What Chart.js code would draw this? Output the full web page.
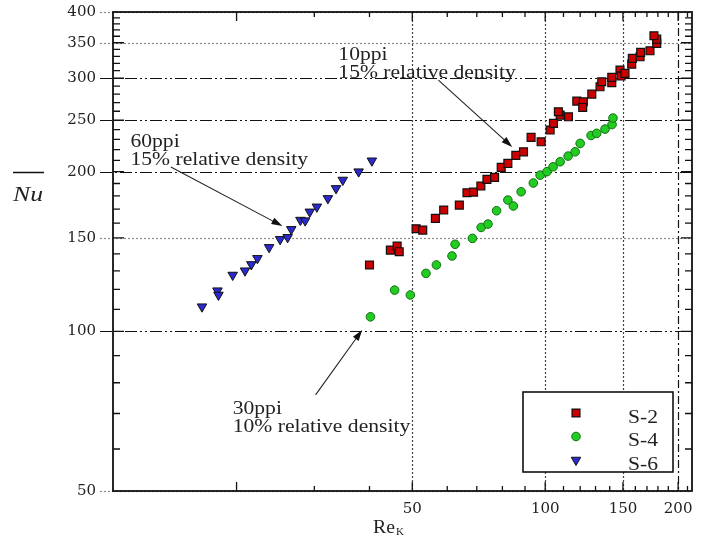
<!DOCTYPE html>
<html>
<head>
<meta charset="utf-8">
<script src="https://cdn.jsdelivr.net/npm/chart.js@4.4.0/dist/chart.umd.min.js"></script>
<style>
  html, body { margin: 0; padding: 0; background: #fff; }
</style>
</head>
<body>
<canvas id="nuChart" width="704" height="540"></canvas>
<script>
// S-2 : 10ppi, 15% relative density
const s2Re = [40.0, 44.6, 46.2, 46.7, 51.0, 52.8, 56.4, 58.9, 63.9, 66.5, 68.8, 71.5, 73.8, 76.8, 79.5, 82.3,
  85.8, 89.3, 92.9, 97.9, 102.6, 104.4, 108.1, 107.1, 112.9, 117.9, 122.0, 121.6, 127.5, 133.1, 134.3,
  141.5, 141.5, 147.7, 148.5, 151.6, 157.0, 157.5, 164.0, 164.5, 172.7, 178.9, 178.9, 176.3];
const s2Nu = [133.4, 142.3, 144.8, 141.3, 156.1, 155.2, 163.3, 169.3, 173.0, 182.5, 183.0, 187.9, 193.4, 195.1, 203.8, 207.3,
  214.7, 218.0, 232.1, 227.7, 239.6, 246.7, 255.7, 259.4, 253.8, 271.7, 270.9, 264.3, 280.1, 289.1, 295.5,
  294.2, 301.2, 310.9, 302.9, 306.4, 319.0, 327.0, 329.3, 335.7, 338.0, 349.0, 355.6, 360.8];

// S-4 : 30ppi, 10% relative density
const s4Re = [40.2, 45.6, 49.5, 53.7, 56.7, 61.5, 62.5, 68.4, 71.6, 74.2, 77.6, 82.3, 84.7, 88.2, 94.0, 97.4,
  100.9, 104.2, 108.1, 112.7, 116.9, 120.0, 127.0, 130.8, 136.6, 141.7, 142.4];
const s4Nu = [106.5, 119.6, 117.1, 128.6, 133.4, 138.7, 145.9, 149.7, 157.0, 159.3, 168.8, 176.8, 172.3, 183.3, 190.4, 197.0,
  200.0, 204.3, 208.8, 214.0, 218.0, 226.1, 234.0, 236.2, 240.6, 245.4, 252.4];

// S-6 : 60ppi, 15% relative density
const s6Re = [16.7, 18.1, 18.2, 19.6, 20.9, 21.6, 22.3, 23.7, 25.1, 26.1, 26.6, 27.9, 28.6, 29.3, 30.4, 32.2, 33.6, 34.8, 37.8, 40.5];
const s6Nu = [111.3, 119.3, 117.1, 127.7, 130.1, 133.7, 137.3, 144.0, 149.1, 150.4, 155.7, 162.1, 161.7, 168.0, 171.7, 178.1, 186.0, 192.9, 200.0, 209.7];

const xTicks = [50, 100, 150, 200];
const yTicks = [50, 100, 150, 200, 250, 300, 350, 400];

// annotation labels, anchored in data units (Re, Nu)
const notes = [
  { lines: ['10ppi', '15% relative density'], at: [34.0, 331], from: [57.3, 297.5], to: [84.2, 222.6] },
  { lines: ['60ppi', '15% relative density'], at: [11.5, 227.6], from: [14.2, 204], to: [25.4, 157.9] },
  { lines: ['30ppi', '10% relative density'], at: [19.6, 71.4], from: [30.2, 75.9], to: [38.5, 100.6] }
];

const serif = '"DejaVu Serif", "Liberation Serif", serif';
const times = '"Liberation Serif", "Times New Roman", serif';
const txt = '#222';

function pairs(xs, ys) {
  return xs.map((x, i) => ({ x: x, y: ys[i] }));
}

// the original lettering is a widened Times face
function wideText(ctx, s, x, y, font, sx) {
  ctx.save();
  ctx.font = font;
  ctx.translate(x, y);
  ctx.scale(sx, 1);
  ctx.fillText(s, 0, 0);
  ctx.restore();
  ctx.font = font;
  return ctx.measureText(s).width * sx;
}

function gridStyle(v, vertical) {
  if (vertical) {
    if (v === 200) return { color: '#111', dash: [8, 3, 2, 3] };
    return { color: '#444', dash: [2, 2] };
  }
  if (v === 200) return { color: '#111', dash: [12, 3, 2, 3] };
  if (v === 100 || v === 250 || v === 300) return { color: '#111', dash: [12, 3, 2, 3, 2, 3] };
  return { color: '#888', dash: [2, 2] };
}

const decor = {
  id: 'decor',
  beforeDatasetsDraw(chart) {
    const { ctx, chartArea: a, scales: { x, y } } = chart;
    ctx.save();
    ctx.lineWidth = 1.2;
    yTicks.forEach(v => {
      const s = gridStyle(v, false);
      const py = Math.round(y.getPixelForValue(v)) + 0.5;
      ctx.strokeStyle = s.color;
      ctx.setLineDash(s.dash);
      ctx.beginPath();
      ctx.moveTo(a.left - 13, py);
      ctx.lineTo(a.right, py);
      ctx.stroke();
    });
    xTicks.forEach(v => {
      const s = gridStyle(v, true);
      const px = Math.round(x.getPixelForValue(v)) + 0.5;
      ctx.strokeStyle = s.color;
      ctx.setLineDash(s.dash);
      ctx.beginPath();
      ctx.moveTo(px, a.top);
      ctx.lineTo(px, a.bottom);
      ctx.stroke();
    });
    ctx.setLineDash([]);

    // inner minor ticks
    ctx.strokeStyle = '#111';
    ctx.lineWidth = 1.3;
    for (let v = 60; v < 400; v += 10) {
      const py = y.getPixelForValue(v);
      const len = v % 50 === 0 ? 11 : 7;
      ctx.beginPath();
      ctx.moveTo(a.left, py); ctx.lineTo(a.left + len, py);
      ctx.moveTo(a.right, py); ctx.lineTo(a.right - len, py);
      ctx.stroke();
    }
    const xm = [];
    for (let v = 20; v <= 100; v += 10) xm.push(v);
    for (let v = 110; v <= 210; v += 10) xm.push(v);
    xm.forEach(v => {
      const px = x.getPixelForValue(v);
      const len = (v === 20 || v % 50 === 0) ? 9 : 5;
      ctx.beginPath();
      ctx.moveTo(px, a.bottom); ctx.lineTo(px, a.bottom - len);
      ctx.moveTo(px, a.top); ctx.lineTo(px, a.top + len);
      ctx.stroke();
    });
    ctx.restore();
  },
  afterDatasetsDraw(chart) {
    const { ctx, chartArea: a, scales: { x, y } } = chart;
    ctx.save();
    // frame
    ctx.strokeStyle = '#111';
    ctx.lineWidth = 1.8;
    ctx.strokeRect(a.left, a.top, a.right - a.left, a.bottom - a.top);

    // annotations with arrows
    ctx.fillStyle = txt;
    ctx.textBaseline = 'middle';
    notes.forEach(n => {
      const tx = x.getPixelForValue(n.at[0]);
      const ty = y.getPixelForValue(n.at[1]);
      ctx.fillStyle = txt;
      n.lines.forEach((l, i) => wideText(ctx, l, tx, ty + i * 18, '18px ' + times, 1.2));
      const x0 = x.getPixelForValue(n.from[0]), y0 = y.getPixelForValue(n.from[1]);
      const x1 = x.getPixelForValue(n.to[0]), y1 = y.getPixelForValue(n.to[1]);
      const ang = Math.atan2(y1 - y0, x1 - x0);
      ctx.strokeStyle = '#222';
      ctx.lineWidth = 1.1;
      ctx.beginPath();
      ctx.moveTo(x0, y0);
      ctx.lineTo(x1 - 8 * Math.cos(ang), y1 - 8 * Math.sin(ang));
      ctx.stroke();
      ctx.beginPath();
      ctx.moveTo(x1, y1);
      ctx.lineTo(x1 - 11 * Math.cos(ang) + 3.5 * Math.sin(ang), y1 - 11 * Math.sin(ang) - 3.5 * Math.cos(ang));
      ctx.lineTo(x1 - 11 * Math.cos(ang) - 3.5 * Math.sin(ang), y1 - 11 * Math.sin(ang) + 3.5 * Math.cos(ang));
      ctx.closePath();
      ctx.fillStyle = '#111';
      ctx.fill();
    });

    // legend box
    const bx = a.left + 410, by = a.top + 380, bw = 150, bh = 80;
    ctx.fillStyle = '#fff';
    ctx.fillRect(bx, by, bw, bh);
    ctx.save();
    ctx.beginPath();
    ctx.rect(bx, by, bw, bh);
    ctx.clip();
    chart.data.datasets.forEach((ds, i) => {
      const my = by + 21 + i * 23.5;
      const opts = {
        pointStyle: ds.pointStyle, radius: ds.pointRadius, rotation: ds.pointRotation || 0,
        borderWidth: ds.borderWidth
      };
      ctx.fillStyle = ds.backgroundColor;
      ctx.strokeStyle = ds.borderColor;
      ctx.lineWidth = ds.borderWidth;
      Chart.helpers.drawPoint(ctx, opts, bx + 53, my);
      ctx.fillStyle = txt;
      ctx.textBaseline = 'middle';
      wideText(ctx, ds.label, bx + 105, my + 5, '18px ' + times, 1.2);
    });
    ctx.restore();
    ctx.strokeStyle = '#111';
    ctx.lineWidth = 1.6;
    ctx.strokeRect(bx, by, bw, bh);

    // axis titles
    ctx.fillStyle = txt;
    ctx.textBaseline = 'alphabetic';
    wideText(ctx, 'Nu', 13, 201, 'italic 22px ' + times, 1.17);
    ctx.strokeStyle = '#111';
    ctx.lineWidth = 1.5;
    ctx.beginPath();
    ctx.moveTo(13, 172.5);
    ctx.lineTo(44, 172.5);
    ctx.stroke();
    const rw = wideText(ctx, 'Re', 373, 533, '18px ' + times, 1.1);
    wideText(ctx, 'K', 373 + rw + 1, 535, '10px ' + times, 1.1);
    ctx.restore();
  }
};

const chart = new Chart(document.getElementById('nuChart').getContext('2d'), {
  type: 'scatter',
  data: {
    datasets: [
      { label: 'S-2', data: pairs(s2Re, s2Nu), pointStyle: 'rect', pointRadius: 5.6,
        backgroundColor: '#cc0000', borderColor: '#111', borderWidth: 1.2 },
      { label: 'S-4', data: pairs(s4Re, s4Nu), pointStyle: 'circle', pointRadius: 4.3,
        backgroundColor: '#22cc22', borderColor: '#0f700f', borderWidth: 1 },
      { label: 'S-6', data: pairs(s6Re, s6Nu), pointStyle: 'triangle', pointRotation: 180, pointRadius: 5.5,
        backgroundColor: '#2a2ad0', borderColor: '#111', borderWidth: 1 }
    ]
  },
  options: {
    responsive: false,
    animation: false,
    events: [],
    layout: { padding: { top: 12, right: 12, left: 0, bottom: 0 } },
    plugins: { legend: { display: false }, tooltip: { enabled: false } },
    scales: {
      x: {
        type: 'logarithmic', min: 10.5, max: 215,
        grid: { display: false, drawTicks: false }, border: { display: false },
        ticks: { color: txt, font: { family: serif, size: 15 }, padding: 9, maxRotation: 0, autoSkip: false,
          callback: v => String(v) },
        afterBuildTicks: s => { s.ticks = xTicks.map(v => ({ value: v })); },
        afterFit: s => { s.height = 49; s.paddingLeft = 0; s.paddingRight = 0; }
      },
      y: {
        type: 'logarithmic', min: 50, max: 400,
        grid: { display: false, drawTicks: false }, border: { display: false },
        ticks: { color: txt, font: { family: serif, size: 15 }, padding: 17, autoSkip: false,
          callback: v => String(v) },
        afterBuildTicks: s => { s.ticks = yTicks.map(v => ({ value: v })); },
        afterFit: s => { s.width = 113; s.paddingTop = 0; s.paddingBottom = 0; }
      }
    }
  },
  plugins: [decor]
});
</script>
</body>
</html>
